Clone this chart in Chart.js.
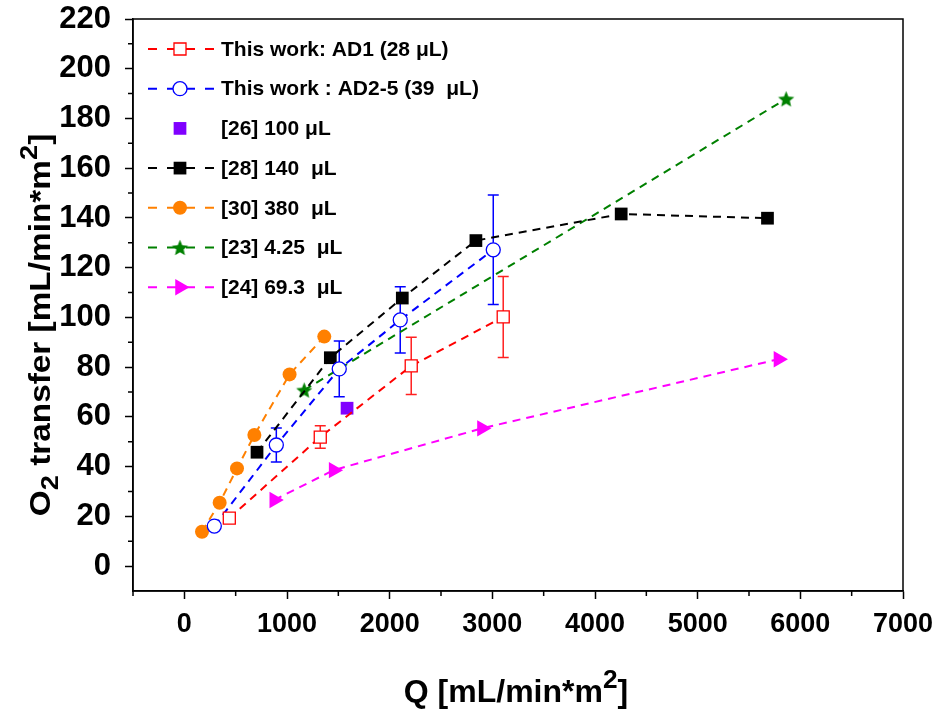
<!DOCTYPE html>
<html><head><meta charset="utf-8">
<script src="https://cdn.jsdelivr.net/npm/chart.js@4.4.0/dist/chart.umd.min.js"></script>
<style>html,body{margin:0;padding:0;background:#fff}</style>
</head><body>
<canvas id="c" width="937" height="711"></canvas>
<script>
// ---- data ----
const redX = [438, 1324, 2210, 3106];
const redY = [19.3, 51.9, 80.5, 100.2];
const redErr = [1.8, 4.5, 11.5, 16.3];

const blueX = [292, 896, 1509, 2103, 3009];
const blueY = [16.1, 48.7, 79.3, 99.0, 127.2];
const blueErr = [0, 6.8, 11.2, 13.3, 22.0];

const purpleX = [1585];
const purpleY = [63.5];

const blackX = [708, 1422, 2123, 2840, 4255, 5680];
const blackY = [45.8, 83.8, 107.8, 130.9, 141.6, 139.9];

const orangeX = [172, 344, 513, 682, 1025, 1363];
const orangeY = [13.8, 25.5, 39.3, 52.7, 77.1, 92.3];

const greenX = [1168, 5862];
const greenY = [70.8, 187.9];

const magentaX = [876, 1454, 2899, 5787];
const magentaY = [26.6, 38.6, 55.4, 83.2];

const xTicks = [0, 1000, 2000, 3000, 4000, 5000, 6000, 7000];
const xMinorTicks = [-500, 500, 1500, 2500, 3500, 4500, 5500, 6500];
const yTicks = [0, 20, 40, 60, 80, 100, 120, 140, 160, 180, 200, 220];
const yMinorTicks = [10, 30, 50, 70, 90, 110, 130, 150, 170, 190, 210];

const seriesLabels = [
  'This work: AD1 (28 \u03BCL)',
  'This work : AD2-5 (39  \u03BCL)',
  '[26] 100 \u03BCL',
  '[28] 140  \u03BCL',
  '[30] 380  \u03BCL',
  '[23] 4.25  \u03BCL',
  '[24] 69.3  \u03BCL'
];
const xTitle = ['Q [mL/min*m', '2', ']'];
const yTitle = ['O', '2', ' transfer [mL/min*m', '2', ']'];

const FONT = "'Liberation Sans', Arial, Helvetica, sans-serif";

function makeStar(color, R) {
  const s = Math.ceil(R * 2 + 2);
  const c = document.createElement('canvas');
  c.width = s; c.height = s;
  const g = c.getContext('2d');
  const cx = s / 2, cy = s / 2 + 0.8, r = R * 0.45;
  g.beginPath();
  for (let i = 0; i < 10; i++) {
    const rad = (i % 2 === 0) ? R : r;
    const a = -Math.PI / 2 + i * Math.PI / 5;
    const px = cx + rad * Math.cos(a), py = cy + rad * Math.sin(a);
    if (i === 0) g.moveTo(px, py); else g.lineTo(px, py);
  }
  g.closePath();
  g.fillStyle = color; g.fill();
  return c;
}
const starImg = makeStar('#008000', 8.5);

function pts(xs, ys) { return xs.map((x, i) => ({x: x, y: ys[i]})); }

const DASH = [8, 6];
const datasets = [
  {label: seriesLabels[0], data: pts(redX, redY), showLine: true, borderColor: '#ff0000', borderDash: DASH, borderWidth: 2,
   pointStyle: 'rect', pointRadius: 8.5, pointBackgroundColor: '#ffffff', pointBorderColor: '#ff0000', pointBorderWidth: 1.3, err: redErr, errColor: '#ff2020'},
  {label: seriesLabels[1], data: pts(blueX, blueY), showLine: true, borderColor: '#0000ff', borderDash: DASH, borderWidth: 2,
   pointStyle: 'circle', pointRadius: 7, pointBackgroundColor: '#ffffff', pointBorderColor: '#0000ff', pointBorderWidth: 1.3, err: blueErr, errColor: '#0000ff'},
  {label: seriesLabels[2], data: pts(purpleX, purpleY), showLine: false, borderColor: '#8000ff',
   pointStyle: 'rect', pointRadius: 9, pointBackgroundColor: '#8000ff', pointBorderColor: '#8000ff', pointBorderWidth: 0},
  {label: seriesLabels[3], data: pts(blackX, blackY), showLine: true, borderColor: '#000000', borderDash: DASH, borderWidth: 2,
   pointStyle: 'rect', pointRadius: 9, pointBackgroundColor: '#000000', pointBorderColor: '#000000', pointBorderWidth: 0},
  {label: seriesLabels[4], data: pts(orangeX, orangeY), showLine: true, borderColor: '#ff8000', borderDash: DASH, borderWidth: 2,
   pointStyle: 'circle', pointRadius: 7, pointBackgroundColor: '#ff8000', pointBorderColor: '#ff8000', pointBorderWidth: 0},
  {label: seriesLabels[5], data: pts(greenX, greenY), showLine: true, borderColor: '#008000', borderDash: DASH, borderWidth: 2,
   pointStyle: starImg, pointRadius: 8.5, pointBackgroundColor: '#008000', pointBorderColor: '#008000', pointBorderWidth: 0},
  {label: seriesLabels[6], data: pts(magentaX, magentaY), showLine: true, borderColor: '#ff00ff', borderDash: DASH, borderWidth: 2,
   pointStyle: 'triangle', pointRotation: 90, pointRadius: 9.5, pointBackgroundColor: '#ff00ff', pointBorderColor: '#ff00ff', pointBorderWidth: 0}
];

const errorBars = {
  id: 'errorBars',
  beforeDatasetsDraw(chart) {
    const ctx = chart.ctx, xs = chart.scales.x, ys = chart.scales.y;
    chart.data.datasets.forEach(ds => {
      if (!ds.err) return;
      ctx.save();
      ctx.strokeStyle = ds.errColor; ctx.lineWidth = 1.5; ctx.setLineDash([]);
      ds.data.forEach((p, i) => {
        const e = ds.err[i]; if (!e) return;
        const px = xs.getPixelForValue(p.x);
        const t = ys.getPixelForValue(p.y + e), b = ys.getPixelForValue(p.y - e);
        ctx.beginPath();
        ctx.moveTo(px, t); ctx.lineTo(px, b);
        ctx.moveTo(px - 5.5, t); ctx.lineTo(px + 5.5, t);
        ctx.moveTo(px - 5.5, b); ctx.lineTo(px + 5.5, b);
        ctx.stroke();
      });
      ctx.restore();
    });
  }
};

function drawPieces(ctx, pieces, size, x, y, align) {
  const widths = pieces.map(p => {
    ctx.font = 'bold ' + (p[1] ? size * 0.82 : size) + 'px ' + FONT;
    return ctx.measureText(p[0]).width;
  });
  const total = widths.reduce((a, b) => a + b, 0);
  let cx = align === 'center' ? x - total / 2 : x;
  pieces.forEach((p, i) => {
    ctx.font = 'bold ' + (p[1] ? size * 0.82 : size) + 'px ' + FONT;
    let dy = 0;
    if (p[1] === 1) dy = size * 0.28;
    if (p[1] === 2) dy = -size * 0.45;
    ctx.fillText(p[0], cx, y + dy);
    cx += widths[i];
  });
}

const decor = {
  id: 'decor',
  afterDraw(chart) {
    const ctx = chart.ctx, a = chart.chartArea, xs = chart.scales.x, ys = chart.scales.y;
    ctx.save();
    ctx.strokeStyle = '#000'; ctx.lineWidth = 1.5; ctx.setLineDash([]);
    ctx.strokeRect(a.left, a.top, a.right - a.left, a.bottom - a.top);
    ctx.beginPath();
    xMinorTicks.forEach(v => {
      const px = xs.getPixelForValue(v);
      ctx.moveTo(px, a.bottom); ctx.lineTo(px, a.bottom + 5);
    });
    yMinorTicks.forEach(v => {
      const py = ys.getPixelForValue(v);
      ctx.moveTo(a.left, py); ctx.lineTo(a.left - 5, py);
    });
    ctx.stroke();

    ctx.fillStyle = '#000'; ctx.textBaseline = 'alphabetic'; ctx.textAlign = 'left';
    drawPieces(ctx, [[xTitle[0], 0], [xTitle[1], 2], [xTitle[2], 0]], 32, 516, 702, 'center');
    ctx.save();
    ctx.translate(50, 325);
    ctx.rotate(-Math.PI / 2);
    ctx.scale(1.15, 1);
    drawPieces(ctx, [[yTitle[0], 0], [yTitle[1], 1], [yTitle[2], 0], [yTitle[3], 2], [yTitle[4], 0]], 29, 0, 0, 'center');
    ctx.restore();

    const ds = chart.data.datasets;
    for (let i = 0; i < ds.length; i++) {
      const d = ds[i];
      const y = 49 + i * 39.7;
      if (d.showLine) {
        ctx.save();
        ctx.strokeStyle = d.borderColor; ctx.lineWidth = 2; ctx.setLineDash([9, 10]);
        ctx.beginPath(); ctx.moveTo(148, y); ctx.lineTo(214, y); ctx.stroke();
        ctx.restore();
      }
      ctx.save();
      ctx.setLineDash([]);
      ctx.fillStyle = d.pointBackgroundColor; ctx.strokeStyle = d.pointBorderColor;
      ctx.lineWidth = d.pointBorderWidth || 0;
      Chart.helpers.drawPoint(ctx, {pointStyle: d.pointStyle, radius: d.pointRadius, rotation: d.pointRotation || 0, borderWidth: d.pointBorderWidth || 0}, 180, y);
      ctx.restore();
      ctx.fillStyle = '#000'; ctx.textBaseline = 'middle'; ctx.textAlign = 'left';
      ctx.font = 'bold 21px ' + FONT;
      ctx.fillText(d.label, 221, y + 1);
    }
    ctx.restore();
  }
};

new Chart(document.getElementById('c'), {
  type: 'scatter',
  data: {datasets: datasets},
  options: {
    responsive: false,
    animation: false,
    devicePixelRatio: 1,
    layout: {padding: {top: 19, right: 34, left: 0, bottom: 0}},
    elements: {line: {tension: 0, fill: false}},
    plugins: {legend: {display: false}, tooltip: {enabled: false}},
    scales: {
      x: {
        type: 'linear', min: -500, max: 7000,
        afterBuildTicks(s) { s.ticks = xTicks.map(v => ({value: v})); },
        ticks: {autoSkip: false, maxRotation: 0, minRotation: 0, color: '#000', padding: 9,
                font: {family: FONT, size: 27, weight: 'bold'},
                callback: v => String(v)},
        grid: {drawOnChartArea: false, drawTicks: true, tickLength: 8, tickColor: '#000', tickWidth: 1.5},
        border: {display: true, color: '#000', width: 1.5},
        afterFit(s) { s.height = 120; s.paddingLeft = 0; s.paddingRight = 0; }
      },
      y: {
        type: 'linear', min: -10, max: 220,
        afterBuildTicks(s) { s.ticks = yTicks.map(v => ({value: v})); },
        ticks: {autoSkip: false, color: '#000', padding: 14,
                font: {family: FONT, size: 31, weight: 'bold'},
                callback: v => String(v)},
        grid: {drawOnChartArea: false, drawTicks: true, tickLength: 8, tickColor: '#000', tickWidth: 1.5},
        border: {display: true, color: '#000', width: 1.5},
        afterFit(s) { s.width = 133; s.paddingTop = 0; s.paddingBottom = 0; }
      }
    }
  },
  plugins: [errorBars, decor]
});
</script>
</body></html>
